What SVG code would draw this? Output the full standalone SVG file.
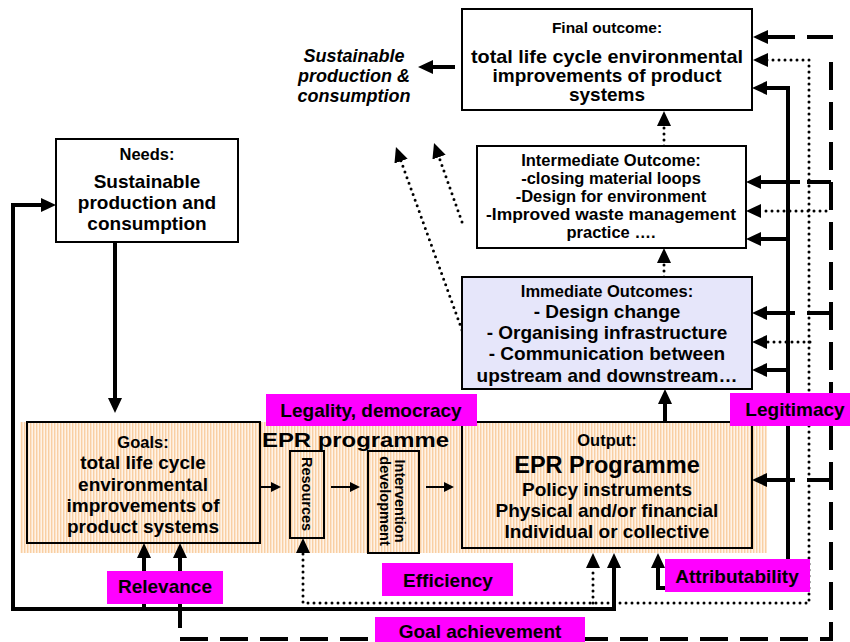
<svg xmlns="http://www.w3.org/2000/svg" width="850" height="642" viewBox="0 0 850 642">
<style>
text{font-family:"Liberation Sans",Arial,sans-serif;font-weight:bold;fill:#000}
.c{text-anchor:middle}
.box{stroke:#000;stroke-width:2;fill:#fff}
.or{stroke:#000;stroke-width:2;fill:url(#stripe)}
.lab{fill:#ff00ff}
.lt{font-size:19px;text-anchor:middle}
.s{stroke:#000;stroke-width:4;fill:none}
.d{stroke:#000;stroke-width:4;fill:none;stroke-dasharray:28 12}
.t{stroke:#000;stroke-width:3;fill:none;stroke-dasharray:0 6;stroke-linecap:round}
.th{stroke:#000;stroke-width:2;fill:none}
.h{font-size:16.5px}
.b{font-size:19px}
.im{font-size:16.5px;text-anchor:middle}
</style>
<defs>
<pattern id="stripe" patternUnits="userSpaceOnUse" width="3" height="10">
<rect width="3" height="10" fill="#fff3e6"/>
<rect width="1.4" height="10" fill="#f9cfa3"/>
</pattern>
<marker id="a" viewBox="0 0 15 14" markerWidth="15" markerHeight="14" refX="1" refY="7" orient="auto-start-reverse" markerUnits="userSpaceOnUse"><path d="M0,0L15,7L0,14z" fill="#000"/></marker>
<marker id="m" viewBox="0 0 10 10" markerWidth="10" markerHeight="10" refX="1" refY="5" orient="auto" markerUnits="userSpaceOnUse"><path d="M0,0L10,5L0,10z" fill="#000"/></marker>
</defs>
<rect x="0" y="0" width="850" height="642" fill="#fff"/>
<rect id="band" x="20" y="422" width="747" height="131" fill="url(#stripe)"/>

<g id="connectors">
<path class="s" d="M42 205H13V609H614V567" marker-start="url(#a)" marker-end="url(#a)"/>
<path class="s" d="M144 609V557" marker-end="url(#a)"/>
<path class="s" d="M180 628V557" marker-end="url(#a)"/>
<path class="s" d="M115 242V399" marker-end="url(#a)"/>
<path class="s" d="M455 67H432" marker-end="url(#a)"/>
<path class="s" d="M665 422V403" marker-end="url(#a)"/>
<path class="s" d="M766 88H788V588H658V567" marker-start="url(#a)" marker-end="url(#a)"/>
<path class="s" d="M800 182H760" marker-end="url(#a)"/>
<path class="s" d="M788 239H760" marker-end="url(#a)"/>
<path class="s" d="M795 313H766" marker-end="url(#a)"/>
<path class="s" d="M788 370H766" marker-end="url(#a)"/>
<path class="s" d="M795 480H766" marker-end="url(#a)"/>
<path class="s" d="M795 37H767" marker-end="url(#a)"/>
<path class="s" d="M807 37H833M807 182H831M807 313H831M807 480H831"/>
<path class="d" d="M180 639H831V52"/>
<path class="t" d="M767 60H809V603H303V552" marker-start="url(#a)" marker-end="url(#a)"/>
<path class="t" d="M593 603V567" marker-end="url(#a)"/>
<path class="t" d="M826 211H760" marker-end="url(#a)"/>
<path class="t" d="M810 342H766" marker-end="url(#a)"/>
<path class="t" d="M462 330L400.7 160.2" marker-end="url(#a)"/>
<path class="t" d="M462 222L438.7 156.2" marker-end="url(#a)"/>
<path class="t" d="M664 146V125" marker-end="url(#a)"/>
<path class="t" d="M664 277V262" marker-end="url(#a)"/>
<path class="th" d="M252 487H272" marker-end="url(#m)"/>
<path class="th" d="M331 487H351" marker-end="url(#m)"/>
<path class="th" d="M426 487H445" marker-end="url(#m)"/>
</g>

<g id="final">
<rect class="box" x="462" y="9" width="290" height="101"/>
<text class="c" x="607" y="33" font-size="15.5">Final outcome:</text>
<text class="c b" x="607" y="63" textLength="272" lengthAdjust="spacingAndGlyphs">total life cycle environmental</text>
<text class="c b" x="607" y="82">improvements of product</text>
<text class="c b" x="607" y="101">systems</text>
</g>

<g id="spc">
<text class="c" x="354" y="62" font-size="18" font-style="italic">Sustainable</text>
<text class="c" x="354" y="82" font-size="18" font-style="italic">production &amp;</text>
<text class="c" x="354" y="102" font-size="18" font-style="italic">consumption</text>
</g>

<g id="intermediate">
<rect class="box" x="477" y="146" width="269" height="102"/>
<text class="im" x="611" y="166">Intermediate Outcome:</text>
<text class="im" x="611" y="184">-closing material loops</text>
<text class="im" x="611" y="202">-Design for environment</text>
<text class="im" x="611" y="220" textLength="250" lengthAdjust="spacingAndGlyphs">-Improved waste management</text>
<text class="im" x="611" y="238">practice ….</text>
</g>

<g id="immediate">
<rect x="462" y="277" width="290" height="112" fill="#e6e6fa" stroke="#000" stroke-width="2"/>
<text class="c h" x="607" y="297">Immediate Outcomes:</text>
<text class="c b" x="607" y="318">- Design change</text>
<text class="c b" x="607" y="339">- Organising infrastructure</text>
<text class="c b" x="607" y="360">- Communication between</text>
<text class="c b" x="607" y="382">upstream and downstream…</text>
</g>

<g id="needs">
<rect class="box" x="56" y="139" width="182" height="103"/>
<text class="c h" x="147" y="160">Needs:</text>
<text class="c b" x="147" y="188">Sustainable</text>
<text class="c b" x="147" y="209">production and</text>
<text class="c b" x="147" y="230">consumption</text>
</g>

<g id="goals">
<rect class="or" x="27" y="422" width="233" height="121"/>
<text class="c h" x="143" y="448">Goals:</text>
<text class="c b" x="143" y="469">total life cycle</text>
<text class="c b" x="143" y="491">environmental</text>
<text class="c b" x="143" y="512">improvements of</text>
<text class="c b" x="143" y="533">product systems</text>
</g>

<g id="epr-title">
<text x="262" y="447" font-size="21" textLength="187" lengthAdjust="spacingAndGlyphs">EPR programme</text>
</g>

<g id="resources">
<rect class="or" x="290" y="451" width="34" height="87"/>
<text class="c" transform="translate(307 494) rotate(90)" x="0" y="5" font-size="14.5" font-weight="normal">Resources</text>
</g>

<g id="intervention">
<rect class="or" x="368" y="451" width="51" height="102"/>
<text class="c" transform="translate(393 501) rotate(90)" x="0" y="-2" font-size="14.5" font-weight="normal">Intervention</text>
<text class="c" transform="translate(393 501) rotate(90)" x="0" y="13" font-size="14.5" font-weight="normal">development</text>
</g>

<g id="output">
<rect class="or" x="462" y="422" width="290" height="126"/>
<text class="c h" x="607" y="446">Output:</text>
<text class="c" x="607" y="473" font-size="23.5">EPR Programme</text>
<text class="c b" x="607" y="496">Policy instruments</text>
<text class="c b" x="607" y="517">Physical and/or financial</text>
<text class="c b" x="607" y="538">Individual or collective</text>
</g>

<g id="labels">
<rect class="lab" x="266" y="394" width="211" height="32"/>
<text class="lt" x="371" y="417">Legality, democracy</text>
<rect class="lab" x="107" y="571" width="116" height="33"/>
<text class="lt" x="165" y="593">Relevance</text>
<rect class="lab" x="382" y="563" width="131" height="33"/>
<text class="lt" x="448" y="587">Efficiency</text>
<rect class="lab" x="375" y="617" width="210" height="30"/>
<text class="lt" x="480" y="638">Goal achievement</text>
<rect class="lab" x="730" y="393" width="120" height="33"/>
<text class="lt" x="795" y="416">Legitimacy</text>
<rect class="lab" x="665" y="559" width="145" height="33"/>
<text class="lt" x="737" y="583">Attributability</text>
</g>
</svg>
